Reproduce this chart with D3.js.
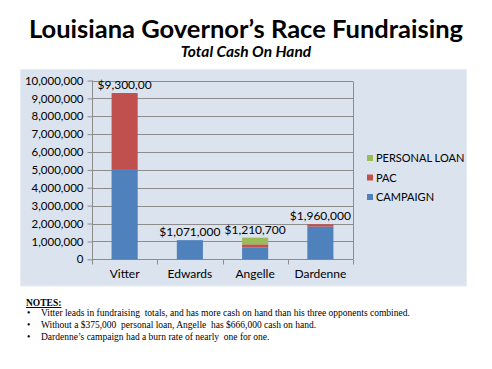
<!DOCTYPE html>
<html>
<head>
<meta charset="utf-8">
<script src="https://cdn.jsdelivr.net/npm/d3@7"></script>
<style>
  html, body { margin: 0; padding: 0; background: #ffffff; }
  svg { display: block; }
</style>
</head>
<body>
<svg id="chart" width="492" height="369"></svg>
<script>
// ---- data ----
const categories = ["Vitter", "Edwards", "Angelle", "Dardenne"];
const seriesNames = ["CAMPAIGN", "PAC", "PERSONAL LOAN"];
const campaign = [5000000, 1071000, 666000, 1830000];
const pac = [4300000, 0, 169700, 130000];
const personalLoan = [0, 0, 375000, 0];
const totalLabels = ["$9,300,00", "$1,071,000", "$1,210,700", "$1,960,000"];
const yTicks = [0, 1000000, 2000000, 3000000, 4000000, 5000000, 6000000, 7000000, 8000000, 9000000, 10000000];
const titleText = "Louisiana Governor\u2019s Race Fundraising";
const subtitleText = "Total Cash On Hand";
const notesTitle = "NOTES:";
const notes = [
  "Vitter leads in fundraising  totals, and has more cash on hand than his three opponents combined.",
  "Without a $375,000  personal loan, Angelle  has $666,000 cash on hand.",
  "Dardenne\u2019s campaign had a burn rate of nearly  one for one."
];
const colors = { "CAMPAIGN": "#4f81bd", "PAC": "#c0504d", "PERSONAL LOAN": "#9bbb59" };

// ---- build table ----
const rows = categories.map((c, i) => ({
  cat: c, "CAMPAIGN": campaign[i], "PAC": pac[i], "PERSONAL LOAN": personalLoan[i], label: totalLabels[i]
}));
const stacked = d3.stack().keys(seriesNames)(rows);

const svg = d3.select("#chart");
const font = "Lato, 'Open Sans', sans-serif";

// titles
svg.append("text").attr("x", 246).attr("y", 38).attr("text-anchor", "middle")
  .style("font-family", font).style("font-weight", "bold").style("font-size", "25.5px")
  .attr("fill", "#000").text(titleText);
svg.append("text").attr("x", 246).attr("y", 57).attr("text-anchor", "middle")
  .style("font-family", font).style("font-weight", "bold").style("font-style", "italic").style("font-size", "15.5px")
  .attr("fill", "#000").text(subtitleText);

// panel
svg.append("rect").attr("x", 20.5).attr("y", 69.5).attr("width", 446).attr("height", 216.5)
  .attr("fill", "#dbe3ef").attr("stroke", "#e6ecf4");

// scales
const plot = { left: 92, right: 353, top: 80.5, bottom: 259.3 };
const x = d3.scaleBand().domain(categories).range([plot.left, plot.right]).paddingInner(0.6).paddingOuter(0.3);
const y = d3.scaleLinear().domain([0, 10000000]).range([plot.bottom, plot.top]);

// gridlines
svg.append("g").selectAll("line").data(yTicks.filter(t => t > 0)).join("line")
  .attr("x1", plot.left).attr("x2", plot.right)
  .attr("y1", d => Math.round(y(d)) + 0.5).attr("y2", d => Math.round(y(d)) + 0.5)
  .attr("stroke", "#8c8c8c").attr("stroke-width", 1);
// right border of plot
svg.append("line").attr("x1", plot.right + 0.5).attr("x2", plot.right + 0.5)
  .attr("y1", Math.round(plot.top) + 0.5).attr("y2", plot.bottom)
  .attr("stroke", "#8c8c8c");

// y axis
const yAxis = d3.axisLeft(y).tickValues(yTicks).tickFormat(d3.format(",")).tickSize(5).tickPadding(4);
const gy = svg.append("g").attr("transform", `translate(${plot.left + 0.5},0)`).call(yAxis);
gy.select(".domain").attr("stroke", "#8c8c8c").attr("d", `M0,${plot.top}V${plot.bottom}`);
gy.selectAll(".tick line").attr("stroke", "#8c8c8c");
gy.selectAll(".tick text").style("font-family", font).style("font-size", "11.5px").attr("fill", "#000");

// x axis
const xAxis = d3.axisBottom(x).tickSize(0).tickPadding(10);
const gx = svg.append("g").attr("transform", `translate(0,${Math.round(plot.bottom) + 0.5})`).call(xAxis);
gx.select(".domain").attr("stroke", "#8c8c8c").attr("d", `M${plot.left},0H${plot.right}`);
gx.selectAll(".tick text").style("font-family", font).style("font-size", "12px").attr("fill", "#000");
// category boundary ticks
const bounds = d3.range(categories.length + 1).map(i => plot.left + i * x.step());
gx.append("g").selectAll("line").data(bounds).join("line")
  .attr("x1", d => Math.round(d) + 0.5).attr("x2", d => Math.round(d) + 0.5)
  .attr("y1", 0).attr("y2", 5).attr("stroke", "#8c8c8c");

// bars
svg.append("g").selectAll("g").data(stacked).join("g")
  .attr("fill", d => colors[d.key])
  .selectAll("rect").data(d => d).join("rect")
  .attr("x", d => x(d.data.cat))
  .attr("width", x.bandwidth())
  .attr("y", d => y(d[1]))
  .attr("height", d => Math.max(0, y(d[0]) - y(d[1])));

// value labels
svg.append("g").selectAll("text").data(rows).join("text")
  .attr("x", d => x(d.cat) + x.bandwidth() / 2)
  .attr("y", d => y(d["CAMPAIGN"] + d["PAC"] + d["PERSONAL LOAN"]) - 4)
  .attr("text-anchor", "middle")
  .style("font-family", font).style("font-size", "12px").attr("fill", "#000")
  .text(d => d.label);

// legend
const legendOrder = ["PERSONAL LOAN", "PAC", "CAMPAIGN"];
const lg = svg.append("g").attr("transform", "translate(367,158)");
const li = lg.selectAll("g").data(legendOrder).join("g")
  .attr("transform", (d, i) => `translate(0,${i * 19.5})`);
li.append("rect").attr("x", 0).attr("y", -3).attr("width", 6).attr("height", 6).attr("fill", d => colors[d]);
li.append("text").attr("x", 9).attr("y", 4)
  .style("font-family", font).style("font-size", "11px").attr("fill", "#000").text(d => d);

// notes
const serif = "'Liberation Serif', 'Times New Roman', serif";
svg.append("text").attr("x", 26).attr("y", 306)
  .style("font-family", serif).style("font-weight", "bold").style("font-size", "9.5px")
  .style("text-decoration", "underline").attr("fill", "#000").text(notesTitle);
const ng = svg.append("g");
notes.forEach((t, i) => {
  ng.append("text").attr("x", 27).attr("y", 316 + i * 12)
    .style("font-family", serif).style("font-size", "9.5px").attr("fill", "#000").text("\u2022");
  ng.append("text").attr("x", 41).attr("y", 316 + i * 12)
    .style("font-family", serif).style("font-size", "9.5px").attr("fill", "#000")
    .attr("xml:space", "preserve").style("white-space", "pre").text(t);
});
</script>
</body>
</html>
